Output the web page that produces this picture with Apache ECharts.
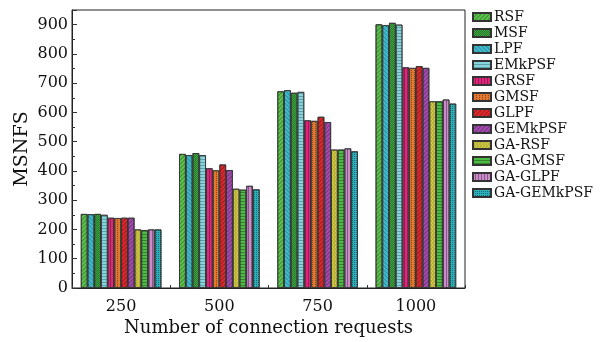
<!DOCTYPE html>
<html><head><meta charset="utf-8">
<script src="https://cdn.jsdelivr.net/npm/echarts@6/dist/echarts.min.js"></script>
<style>html,body{margin:0;padding:0;background:#fff}#c{width:611px;height:342px}</style>
</head><body><div id="c"></div>
<script>
const categories = ['250', '500', '750', '1000'];
// series in the order the bars appear inside each group
const seriesNames = ['RSF', 'LPF', 'MSF', 'EMkPSF', 'GRSF', 'GMSF', 'GLPF', 'GEMkPSF', 'GA-RSF', 'GA-GMSF', 'GA-GLPF', 'GA-GEMkPSF'];
const legendOrder = ['RSF', 'MSF', 'LPF', 'EMkPSF', 'GRSF', 'GMSF', 'GLPF', 'GEMkPSF', 'GA-RSF', 'GA-GMSF', 'GA-GLPF', 'GA-GEMkPSF'];
const RSF = [253, 458, 672, 901];
const LPF = [252, 454, 676, 898];
const MSF = [253, 461, 667, 906];
const EMkPSF = [250, 454, 670, 900];
const GRSF = [240, 409, 573, 754];
const GMSF = [239, 402, 571, 752];
const GLPF = [240, 422, 585, 758];
const GEMkPSF = [240, 403, 567, 752];
const GA_RSF = [200, 339, 473, 638];
const GA_GMSF = [198, 336, 473, 638];
const GA_GLPF = [200, 349, 477, 644];
const GA_GEMkPSF = [200, 337, 467, 630];
const yTicks = [0, 100, 200, 300, 400, 500, 600, 700, 800, 900];

const values = [RSF, LPF, MSF, EMkPSF, GRSF, GMSF, GLPF, GEMkPSF, GA_RSF, GA_GMSF, GA_GLPF, GA_GEMkPSF];
const colors = ['#5cc44c', '#40bcd0', '#3aa83e', '#86d4dc', '#e0267c', '#e2772f', '#e0282c', '#a64cb0', '#d4cc44', '#4cbc44', '#cc8ccc', '#2cb2bc'];
const dk = 'rgba(0,0,0,0.3)';
const decals = [
  {symbol:'rect', dashArrayX:[1,0], dashArrayY:[1,2], rotation:-Math.PI/4, color:dk},
  {symbol:'rect', dashArrayX:[1,0], dashArrayY:[1,2], rotation:Math.PI/4, color:'rgba(0,0,0,0.25)'},
  {symbol:'rect', dashArrayX:[[1,1],[0,1,1,0]], dashArrayY:[1,0], color:dk},
  {symbol:'rect', dashArrayX:[1,0], dashArrayY:[1,2], rotation:0, color:'rgba(40,80,90,0.4)'},
  {symbol:'rect', dashArrayX:[1,0], dashArrayY:[1,2], rotation:Math.PI/2, color:dk},
  {symbol:'rect', dashArrayX:[[1,2],[1,2]], dashArrayY:[1,1], color:'rgba(0,0,0,0.4)'},
  {symbol:'rect', dashArrayX:[1,0], dashArrayY:[1,2], rotation:-Math.PI/4, color:dk},
  {symbol:'rect', dashArrayX:[1,0], dashArrayY:[1,2], rotation:-Math.PI/4, color:dk},
  {symbol:'circle', symbolSize:0.8, dashArrayX:[[2,1],[0,1,2,0]], dashArrayY:[2,0], color:'rgba(0,0,0,0.3)'},
  {symbol:'rect', dashArrayX:[1,0], dashArrayY:[1,2], rotation:0, color:dk},
  {symbol:'rect', dashArrayX:[1,0], dashArrayY:[1,2], rotation:Math.PI/2, color:'rgba(0,0,0,0.35)'},
  {symbol:'rect', dashArrayX:[[1,1]], dashArrayY:[1,1], color:'rgba(0,0,0,0.4)'}
];
const font = 'DejaVu Serif';

const series = seriesNames.map((n, i) => ({
  name: n,
  type: 'bar',
  data: values[i],
  barGap: '0%',
  barCategoryGap: '18%',
  itemStyle: {color: colors[i], borderColor: '#333', borderWidth: 0.8, decal: decals[i]}
}));

const chart = echarts.init(document.getElementById('c'), null, {renderer: 'canvas'});
chart.setOption({
  animation: false,
  backgroundColor: '#fff',
  grid: {left: 72, right: 146, top: 10, bottom: 50, show: true, borderColor: '#222', borderWidth: 1, backgroundColor: 'transparent'},
  legend: {
    data: legendOrder,
    orient: 'vertical',
    left: 472, top: 10,
    icon: 'rect', itemWidth: 18, itemHeight: 8, itemGap: 2,
    textStyle: {fontFamily: font, fontSize: 14, color: '#111', lineHeight: 14, padding: [0, 0, 0, -2]},
    padding: 0
  },
  xAxis: {
    type: 'category', data: categories,
    name: 'Number of connection requests', nameLocation: 'middle', nameGap: 31, nameMoveOverlap: false,
    nameTextStyle: {fontFamily: font, fontSize: 18, color: '#111'},
    axisLine: {lineStyle: {color: '#222', width: 1}},
    axisTick: {show: true, inside: true, length: 3, lineStyle: {color: '#333'}},
    axisLabel: {fontFamily: font, fontSize: 16, color: '#111', margin: 11}
  },
  yAxis: {
    type: 'value', min: 0, max: 950, interval: 100,
    name: 'MSNFS', nameLocation: 'middle', nameGap: 40, nameMoveOverlap: false,
    nameTextStyle: {fontFamily: font, fontSize: 19, color: '#111'},
    axisLine: {show: true, lineStyle: {color: '#222', width: 1}},
    axisTick: {show: true, inside: true, length: 5, lineStyle: {color: '#333'}},
    minorTick: {show: true, splitNumber: 2, length: 3, lineStyle: {color: '#333'}},
    splitLine: {show: false},
    axisLabel: {fontFamily: font, fontSize: 16, color: '#111', margin: 4, showMaxLabel: false,
      formatter: v => (yTicks.indexOf(v) >= 0 ? String(v) : '')}
  },
  series: series
});
</script></body></html>
